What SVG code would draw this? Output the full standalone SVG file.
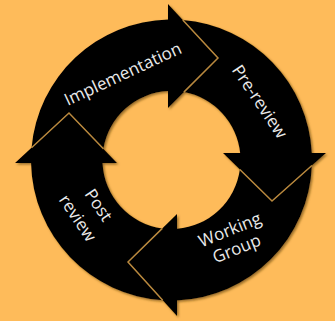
<svg xmlns="http://www.w3.org/2000/svg" width="335" height="321" viewBox="0 0 335 321">
  <defs>
    <filter id="sh" x="-10%" y="-10%" width="120%" height="120%">
      <feDropShadow dx="1.5" dy="1.5" stdDeviation="1.2" flood-color="#6b4a10" flood-opacity="0.7"/>
    </filter>
  </defs>
  <style>
    .seg { fill: #050505; }
    .lbl { font-family: "Open Sans", "DejaVu Sans", sans-serif; font-size: 17px; fill: #EAEAEA; text-anchor: middle; }
    .edge { fill: none; stroke: #B8883E; stroke-width: 1.5; stroke-linejoin: miter; }
  </style>
  <rect x="0" y="0" width="335" height="321" fill="#FEBB5A"/>
  <g filter="url(#sh)">
    <g id="implementation">
      <path class="seg" d="M 31.54 147.68 A 140.5 140.5 0 0 1 168 19.54 L 168 4 L 218 58 L 168 108 L 168 91.09 A 69 69 0 0 0 103.41 148.84 L 69 113 Z"/>
    </g>
    <g id="pre-review">
      <path class="seg" d="M 182.77 19.95 A 140.5 140.5 0 0 1 311.83 153 L 326 153 L 272 201 L 223 153 L 240.14 153 A 69 69 0 0 0 183.88 92.12 L 218 58 Z"/>
    </g>
    <g id="working-group">
      <path class="seg" d="M 311.89 165.54 A 140.5 140.5 0 0 1 177 300.39 L 177 316 L 128 262 L 177 214 L 177 228.78 A 69 69 0 0 0 239.84 169.5 L 272 201 Z"/>
    </g>
    <g id="post-review">
      <path class="seg" d="M 162.68 300.22 A 140.5 140.5 0 0 1 31.03 163 L 15 163 L 69 113 L 117 163 L 102.57 163 A 69 69 0 0 0 162.31 228.39 L 128 262 Z"/>
    </g>
  </g>
  <g id="connectors">
    <path class="edge" d="M 182.77 19.95 L 218 58 L 183.88 92.12"/>
    <path class="edge" d="M 311.89 165.54 L 272 201 L 239.84 169.5"/>
    <path class="edge" d="M 162.68 300.22 L 128 262 L 162.31 228.39"/>
    <path class="edge" d="M 31.54 147.68 L 69 113 L 103.41 148.84"/>
  </g>
  <g id="labels">
    <text class="lbl" transform="translate(125.3 79.3) rotate(-25)">Implementation</text>
    <text class="lbl" transform="translate(254.9 104.8) rotate(56)">Pre-review</text>
    <text class="lbl" transform="translate(232.1 235.1) rotate(-22)">Working</text>
    <text class="lbl" transform="translate(238.8 254.1) rotate(-22)">Group</text>
    <text class="lbl" transform="translate(93.7 208.4) rotate(56)">Post</text>
    <text class="lbl" transform="translate(72.9 221.4) rotate(56)">review</text>
  </g>
</svg>
